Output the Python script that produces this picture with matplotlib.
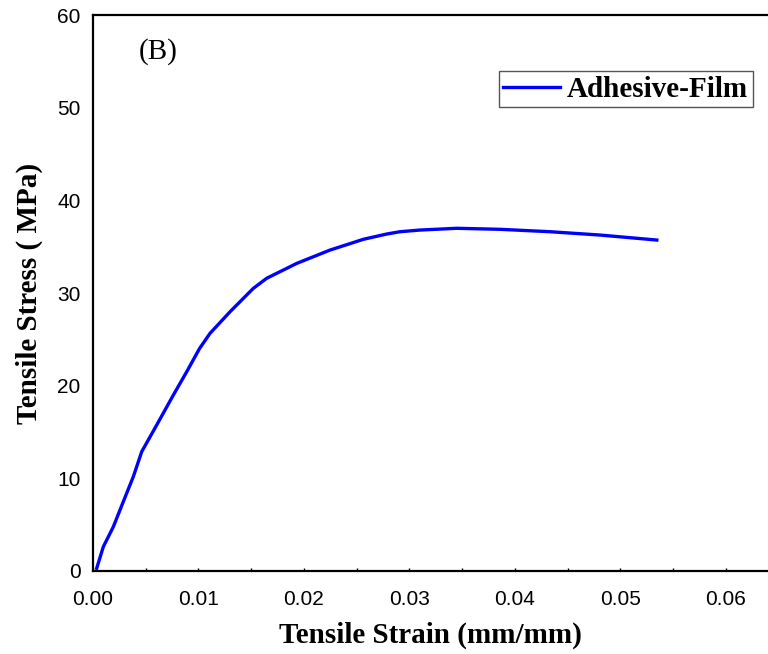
import matplotlib

matplotlib.use("Agg")
import matplotlib.pyplot as plt
from matplotlib.ticker import MultipleLocator

# Curva tensão x deformação
strain = [0.00035, 0.00098, 0.00193, 0.00287, 0.00382, 0.00462, 0.00604, 0.00762,
          0.00889, 0.0101, 0.0111, 0.0130, 0.0152, 0.01647, 0.01932, 0.02248, 0.02563,
          0.02785, 0.02911, 0.031, 0.03449, 0.0386, 0.04334, 0.04808, 0.05346]
stress = [0.26, 2.59, 4.75, 7.45, 10.15, 12.86, 15.74, 18.98,
          21.5, 24.0, 25.65, 27.98, 30.5, 31.59, 33.2, 34.64, 35.8,
          36.37, 36.62, 36.8, 36.99, 36.88, 36.62, 36.26, 35.72]
serie = "Adhesive-Film"
x_ticks = [0.00, 0.01, 0.02, 0.03, 0.04, 0.05, 0.06]
y_ticks = [0, 10, 20, 30, 40, 50, 60]

W, H = 768, 654
fig = plt.figure(figsize=(W / 100, H / 100), dpi=100)
ax = fig.add_axes([93 / W, (H - 570.7) / H, 675 / W, 555.4 / H])

ax.plot(strain, stress, color="#0000FF", linewidth=2.4, label=serie)

ax.set_xlim(0, 0.064)
ax.set_ylim(0, 60)
ax.set_xticks(x_ticks)
ax.set_xticklabels([f"{v:.2f}" for v in x_ticks])
ax.xaxis.set_minor_locator(MultipleLocator(0.005))
ax.set_yticks(y_ticks)

for lado in ("left", "bottom", "top"):
    ax.spines[lado].set_linewidth(1.6)
ax.spines["right"].set_visible(False)

ax.tick_params(axis="x", which="both", direction="in", length=2.5, width=1, pad=14,
               labelsize=15)
ax.tick_params(axis="y", length=0, pad=9, labelsize=15)
for lbl in ax.get_xticklabels() + ax.get_yticklabels():
    lbl.set_fontfamily("Liberation Sans")

ax.set_xlabel("Tensile Strain (mm/mm)", fontfamily="Liberation Serif", fontweight="bold",
              fontsize=21, labelpad=9)
ax.set_ylabel("Tensile Stress ( MPa)", fontfamily="Liberation Serif", fontweight="bold",
              fontsize=21, labelpad=10)

ax.text(0.096, 0.934, "(B)", transform=ax.transAxes, fontfamily="Liberation Serif",
        fontsize=21, ha="center", va="center")

leg = ax.legend(loc="upper right", bbox_to_anchor=(0.9774, 0.899), fancybox=False,
                edgecolor="#555555", framealpha=1, borderpad=0.15, handlelength=1.95,
                handletextpad=0.25, borderaxespad=0,
                prop={"family": "Liberation Serif", "weight": "bold", "size": 21})
leg.get_frame().set_linewidth(1)

fig.savefig("out.png", dpi=100)
